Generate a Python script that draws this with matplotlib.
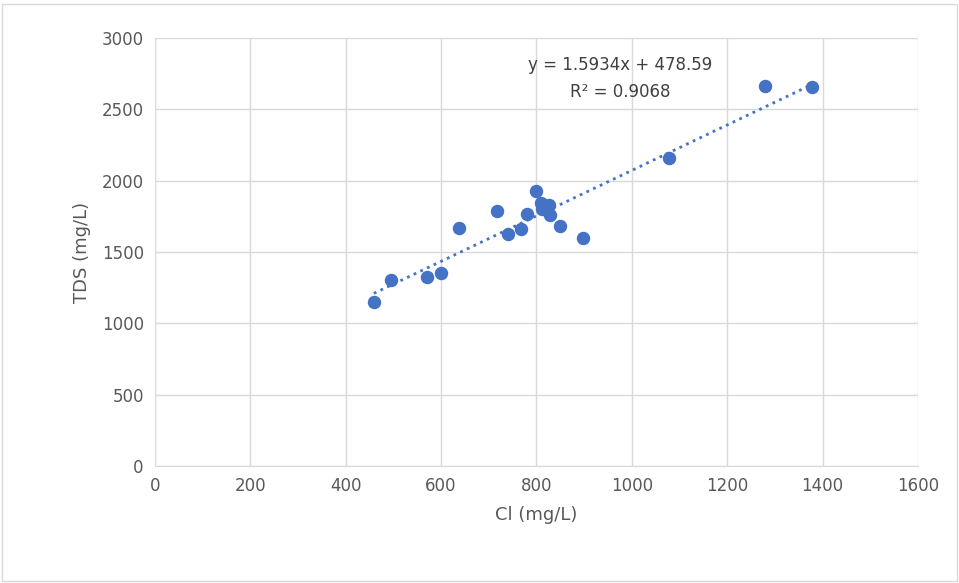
import matplotlib
matplotlib.use("Agg")
import matplotlib.pyplot as plt
import numpy as np

cl = [459, 495, 570, 600, 637, 717, 740, 767, 780, 799, 809, 811, 826, 828, 849, 897, 1078, 1279, 1377]
tds = [1149, 1303, 1324, 1352, 1668, 1787, 1626, 1661, 1766, 1927, 1843, 1801, 1829, 1759, 1682, 1598, 2158, 2663, 2656]
slope, intercept = 1.5934, 478.59

plt.rcParams['font.family'] = ['DejaVu Sans']
fig = plt.figure(figsize=(9.59, 5.83), dpi=100)
fig.patches.append(plt.Rectangle((0.002, 0.003), 0.996, 0.99, transform=fig.transFigure,
                                 fill=False, edgecolor='#d9d9d9', linewidth=1))
ax = fig.add_axes([0.1616, 0.2007, 0.7956, 0.7341])

ax.scatter(cl, tds, s=75, color='#4472c4', zorder=3)
xs = np.array([min(cl), max(cl)])
ax.plot(xs, slope * xs + intercept, linestyle=':', color='#4472c4', linewidth=2, zorder=2)

ax.set_xlim(0, 1600)
ax.set_ylim(0, 3000)
ax.set_xticks(range(0, 1601, 200))
ax.set_yticks(range(0, 3001, 500))
ax.grid(True, color='#d9d9d9', linewidth=1)
ax.set_axisbelow(True)
for s in ['top', 'right', 'left']:
    ax.spines[s].set_visible(False)
ax.spines['bottom'].set_color('#d9d9d9')
ax.tick_params(length=0, labelsize=12, colors='#595959', pad=8)
ax.set_xlabel('Cl (mg/L)', fontsize=13, color='#595959', labelpad=8)
ax.set_ylabel('TDS (mg/L)', fontsize=13, color='#595959', labelpad=8)

ax.text(975, 2810, 'y = 1.5934x + 478.59', ha='center', va='center', fontsize=12, color='#404040')
ax.text(975, 2620, 'R² = 0.9068', ha='center', va='center', fontsize=12, color='#404040')

fig.savefig('out.png', dpi=100)
